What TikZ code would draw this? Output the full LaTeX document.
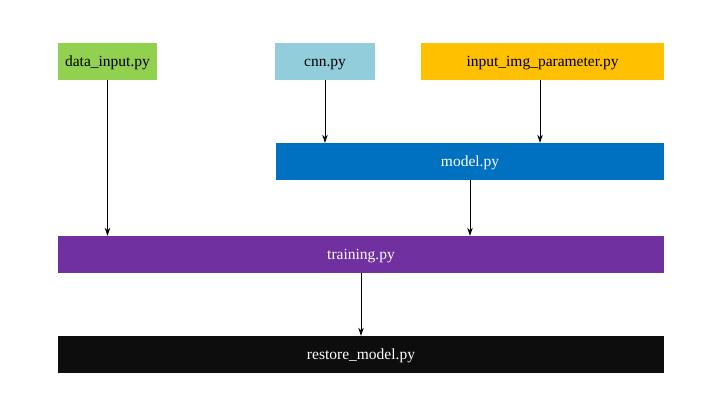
\documentclass[tikz,border=0pt]{standalone}
\usepackage{fontspec}
\setmainfont{Liberation Serif}
\usetikzlibrary{arrows.meta}
\definecolor{cgreen}{HTML}{92D050}
\definecolor{cblue}{HTML}{92CDDC}
\definecolor{cgold}{HTML}{FFC000}
\definecolor{cmodel}{HTML}{0070C0}
\definecolor{cpurple}{HTML}{7030A0}
\definecolor{cblack}{HTML}{0D0D0D}
\begin{document}
\begin{tikzpicture}[x=1pt,y=-1pt,
  box/.style={rectangle, inner sep=0pt, minimum height=37pt, text height=10.5pt, text depth=0pt, font=\fontsize{15.5}{18}\selectfont},
  conn/.style={-{Stealth[length=8pt,width=5.5pt]}, line width=0.8pt, black}]
\useasboundingbox[fill=white] (0,0) rectangle (702,400);
\node[box, fill=cgreen, minimum width=99pt, text=black] (data) at (107.5,61.5) {data\_input.py};
\node[box, fill=cblue, minimum width=100pt, text=black] (cnn) at (325,61.5) {cnn.py};
\node[box, fill=cgold, minimum width=243pt, text=black] (inp) at (542.5,61.5) {input\_img\_parameter.py};
\node[box, fill=cmodel, minimum width=388pt, text=white] (model) at (470,161.5) {model.py};
\node[box, fill=cpurple, minimum width=606pt, text=white] (train) at (361,254.5) {training.py};
\node[box, fill=cblack, minimum width=606pt, text=white] (restore) at (361,354.5) {restore\_model.py};
\draw[conn] (data.south) -- (data.south |- train.north);
\draw[conn] (cnn.south) -- (cnn.south |- model.north);
\draw[conn] ([xshift=-2.5pt]inp.south) -- ([xshift=-2.5pt]inp.south |- model.north);
\draw[conn] (model.south) -- (model.south |- train.north);
\draw[conn] (train.south) -- (restore.north);
\end{tikzpicture}
\end{document}
